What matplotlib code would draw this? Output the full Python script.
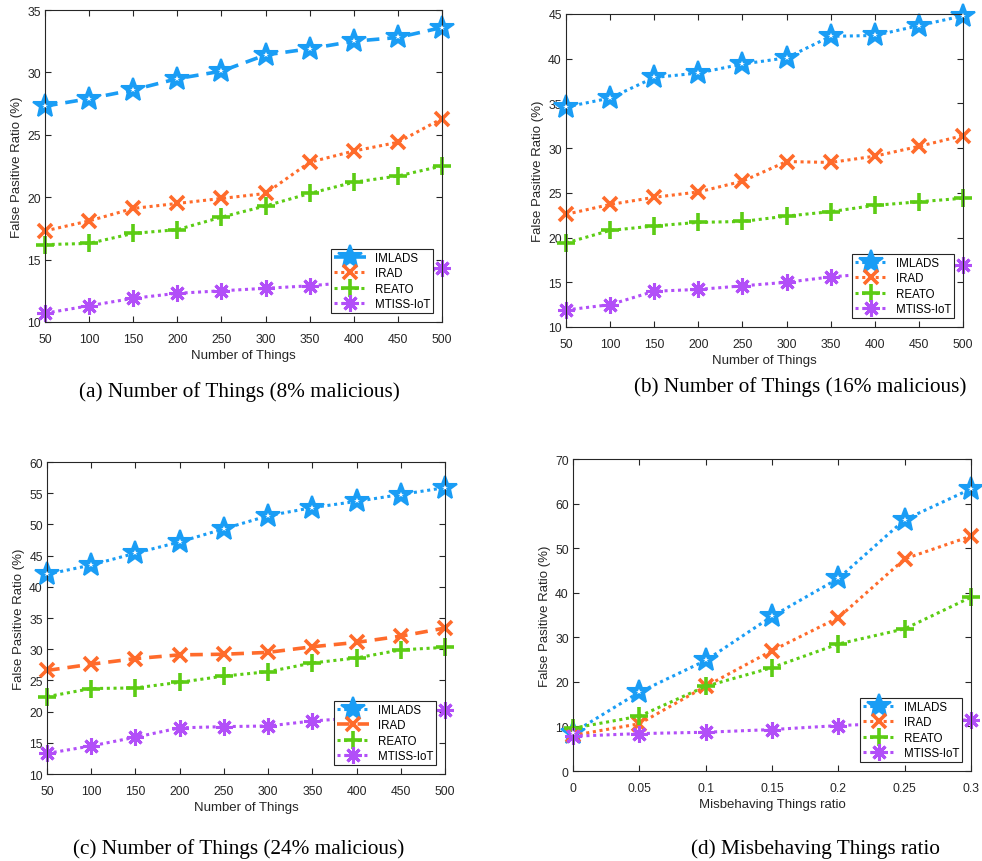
import numpy as np
import matplotlib
matplotlib.use('Agg')
import matplotlib.pyplot as plt

plt.rcParams['font.family'] = ['Liberation Sans', 'DejaVu Sans']

things = [50, 100, 150, 200, 250, 300, 350, 400, 450, 500]
ratio = [0, 0.05, 0.1, 0.15, 0.2, 0.25, 0.3]
names = ['IMLADS', 'IRAD', 'REATO', 'MTISS-IoT']

# (a) 8% malicious
a_imlads = [27.3, 27.9, 28.6, 29.5, 30.1, 31.4, 31.9, 32.5, 32.8, 33.6]
a_irad = [17.3, 18.1, 19.1, 19.5, 19.9, 20.3, 22.8, 23.7, 24.4, 26.3]
a_reato = [16.2, 16.3, 17.1, 17.4, 18.4, 19.3, 20.3, 21.2, 21.7, 22.5]
a_mtiss = [10.7, 11.3, 11.9, 12.3, 12.5, 12.7, 12.9, 13.2, 13.6, 14.3]

# (b) 16% malicious
b_imlads = [34.6, 35.6, 37.9, 38.4, 39.4, 40.1, 42.5, 42.6, 43.7, 44.8]
b_irad = [22.6, 23.7, 24.5, 25.1, 26.3, 28.5, 28.4, 29.1, 30.2, 31.4]
b_reato = [19.4, 20.8, 21.3, 21.7, 21.8, 22.4, 22.9, 23.6, 24.0, 24.4]
b_mtiss = [11.9, 12.5, 14.0, 14.2, 14.6, 15.0, 15.6, 16.0, 16.4, 16.9]

# (c) 24% malicious
c_imlads = [42.0, 43.5, 45.4, 47.2, 49.3, 51.4, 52.7, 53.7, 54.8, 55.9]
c_irad = [26.6, 27.6, 28.5, 29.1, 29.2, 29.5, 30.4, 31.1, 32.1, 33.4]
c_reato = [22.4, 23.7, 23.8, 24.7, 25.7, 26.4, 27.8, 28.6, 29.9, 30.3]
c_mtiss = [13.3, 14.5, 15.9, 17.4, 17.6, 17.7, 18.5, 19.0, 19.5, 20.3]

# (d) misbehaving ratio
d_imlads = [8.6, 17.7, 24.8, 34.7, 43.2, 56.4, 63.3]
d_irad = [8.0, 10.6, 19.0, 27.0, 34.4, 47.6, 52.7]
d_reato = [9.6, 12.3, 19.0, 23.2, 28.5, 31.9, 39.0]
d_mtiss = [7.8, 8.4, 8.7, 9.3, 10.2, 10.8, 11.5]

colors = ['#1a9df5', '#ff6b2b', '#5ccc14', '#b24ff8']
dot = (0, (1, 1.2))
dash = (0, (3.5, 2.2))


def panel(rect, x, series, styles, xlim, ylim, yticks, xlabel, caption, cap_xy):
    ax = fig.add_axes(rect)
    for i, (y, ls) in enumerate(zip(series, styles)):
        c = colors[i]
        kw = dict(color=c, ls=ls, clip_on=False, label=names[i])
        if i == 0:
            ax.plot(x, y, lw=2.6 if ls == dash else 2.2, marker='*', ms=18,
                    mfc=c, mec=c, mew=1.5, **kw)
            # small white hole in the middle of each star
            ax.plot(x, y, ls='none', marker='*', ms=4, mfc='white', mec='white',
                    mew=0, clip_on=False, zorder=3)
        elif i == 1:
            ax.plot(x, y, lw=2.6 if ls == dash else 2.2, marker='x', ms=10, mew=2.6, **kw)
        elif i == 2:
            ax.plot(x, y, lw=2.2, marker='+', ms=13, mew=2.6, **kw)
        else:
            ax.plot(x, y, lw=2.2, marker=(8, 2, 0), ms=12, mew=2.2, **kw)
    ax.set_xlim(xlim)
    ax.set_ylim(ylim)
    ax.set_xticks(x)
    ax.set_xticklabels([('%g' % v) for v in x])
    ax.set_yticks(yticks)
    ax.tick_params(direction='in', top=True, right=True, length=4,
                   labelsize=8.8, colors='#262626', pad=3)
    ax.tick_params(axis='x', pad=8)
    for s in ax.spines.values():
        s.set_color('#262626')
        s.set_linewidth(0.8)
    ax.set_xlabel(xlabel, fontsize=9.5, color='#262626', labelpad=3)
    ax.set_ylabel('False Pasitive Ratio (%)', fontsize=9.5, color='#262626', labelpad=3)
    leg = ax.legend(loc='lower right', fontsize=8.3, numpoints=1, handlelength=2.8,
                    handletextpad=0.7, labelspacing=0.28, borderaxespad=0.75,
                    borderpad=0.3, fancybox=False, framealpha=1)
    leg.get_frame().set_edgecolor('#262626')
    leg.get_frame().set_linewidth(0.8)
    fig.text(cap_xy[0], cap_xy[1], caption, ha='center', va='center',
             fontsize=15.3, family=['Liberation Serif', 'DejaVu Serif'])
    return ax


fig = plt.figure(figsize=(9.82, 8.62), dpi=100)

panel([0.0458, 0.6253, 0.4043, 0.3619], things,
      [a_imlads, a_irad, a_reato, a_mtiss], [dash, dot, dot, dot],
      (50, 500), (10, 35), np.arange(10, 36, 5), 'Number of Things',
      '(a) Number of Things (8% malicious)', (0.2434, 0.5452))

panel([0.5764, 0.6195, 0.4043, 0.3631], things,
      [b_imlads, b_irad, b_reato, b_mtiss], [dot, dot, dot, dot],
      (50, 500), (10, 45), np.arange(10, 46, 5), 'Number of Things',
      '(b) Number of Things (16% malicious)', (0.8147, 0.551))

panel([0.0479, 0.1009, 0.4053, 0.3619], things,
      [c_imlads, c_irad, c_reato, c_mtiss], [dot, dash, dot, dot],
      (50, 500), (10, 60), np.arange(10, 61, 5), 'Number of Things',
      '(c) Number of Things (24% malicious)', (0.2434, 0.015))

panel([0.5835, 0.1044, 0.4053, 0.3619], ratio,
      [d_imlads, d_irad, d_reato, d_mtiss], [dot, dot, dot, dot],
      (0, 0.3), (0, 70), np.arange(0, 71, 10), 'Misbehaving Things ratio',
      '(d) Misbehaving Things ratio', (0.83, 0.015))

fig.savefig('out.png', dpi=100)
